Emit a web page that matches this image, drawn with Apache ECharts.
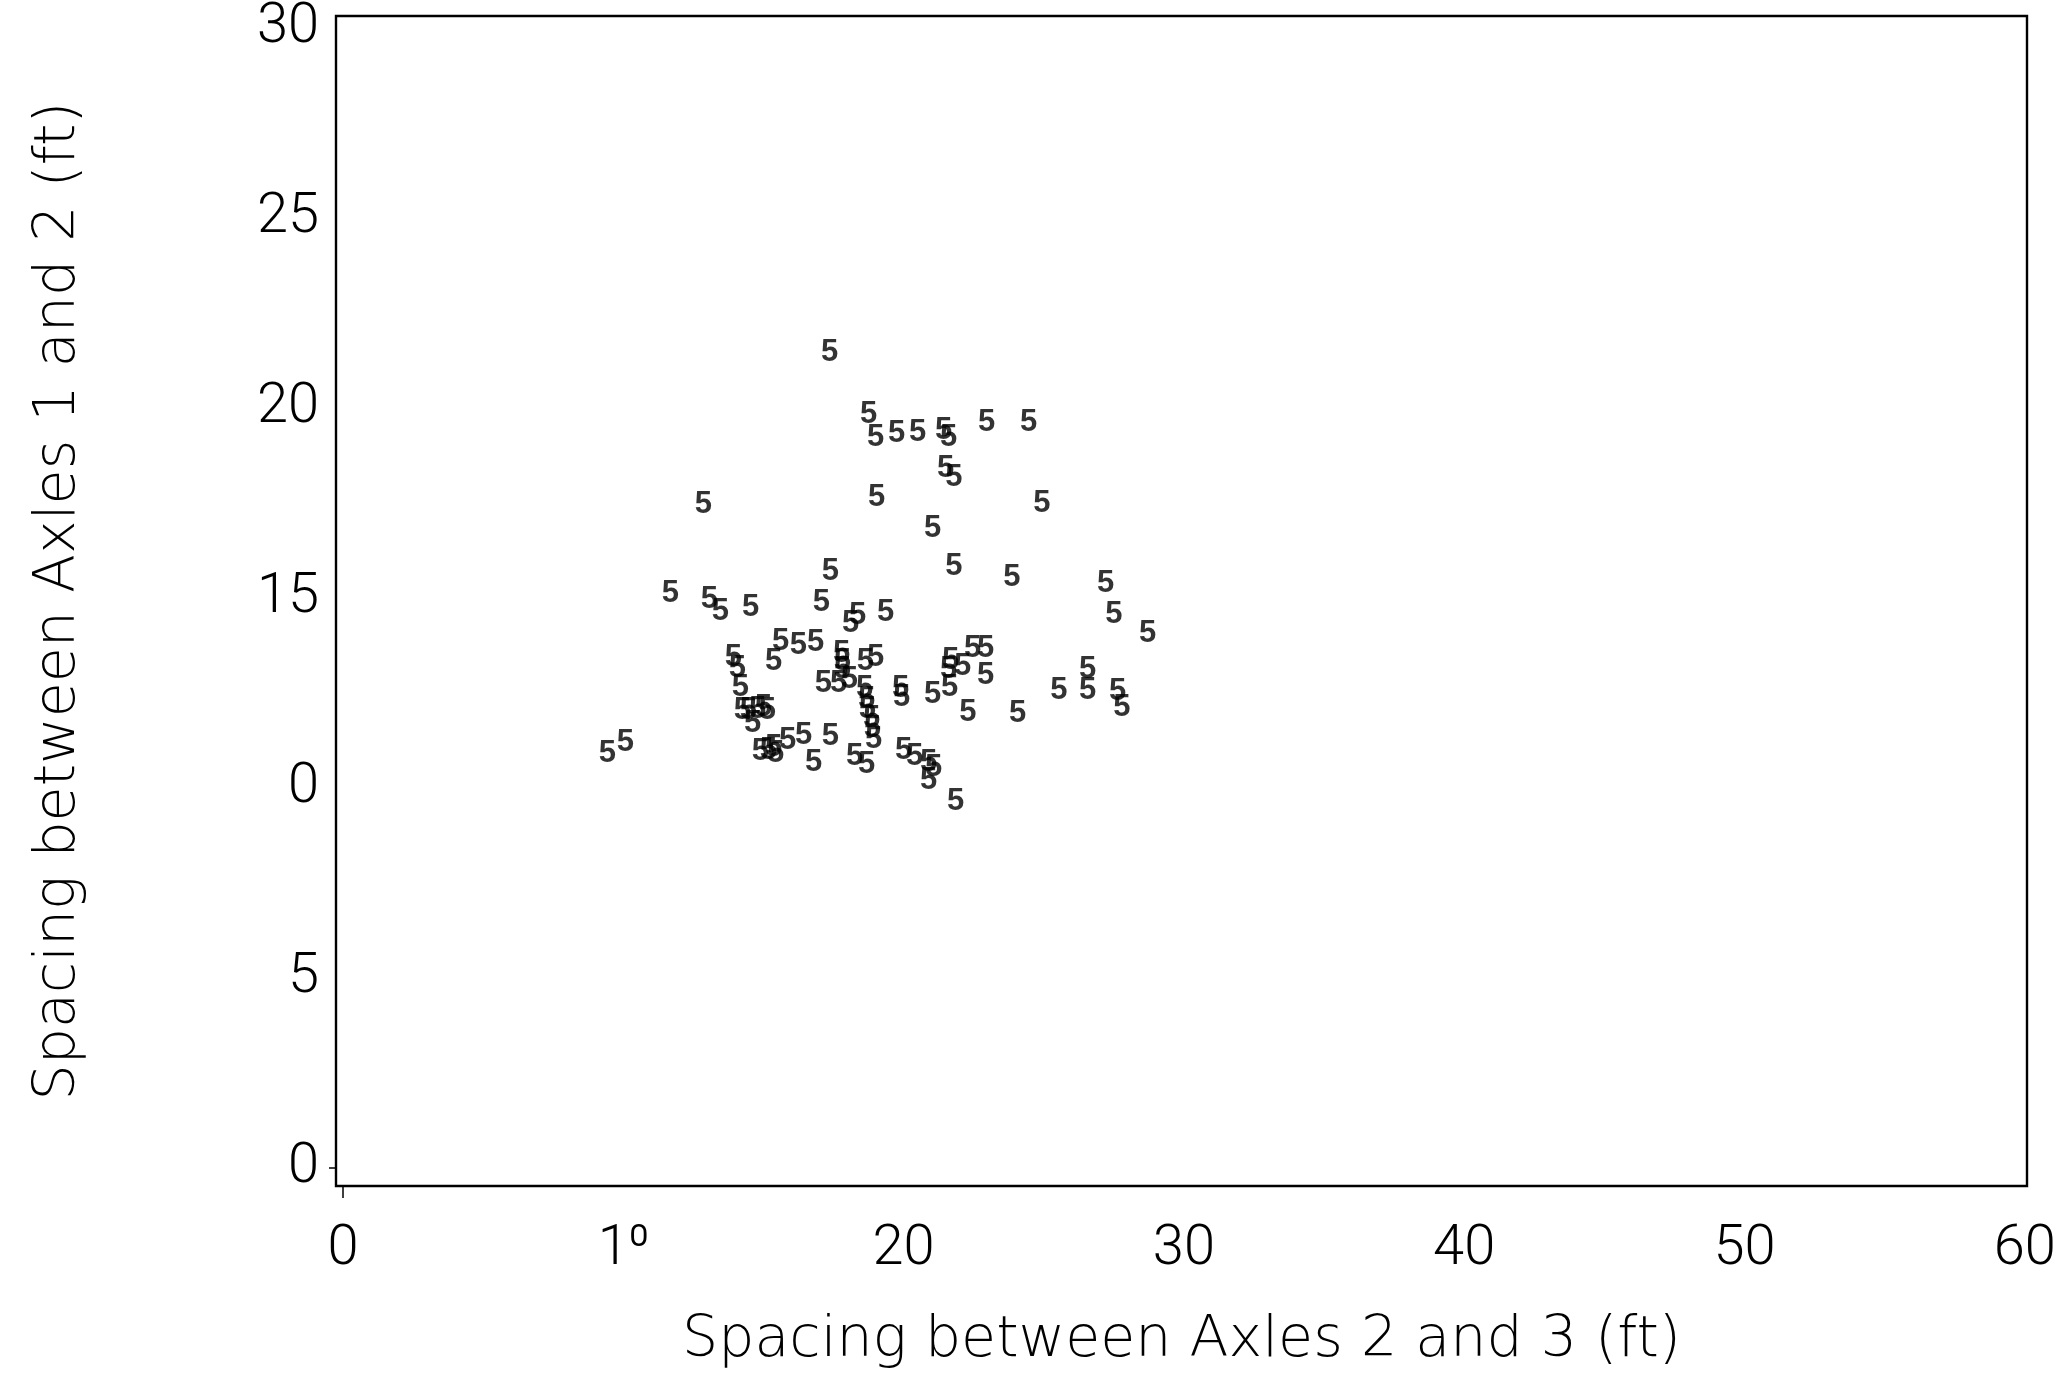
<!DOCTYPE html>
<html>
<head>
<meta charset="utf-8">
<title>Axle spacing</title>
<script src="https://cdn.jsdelivr.net/npm/echarts@6/dist/echarts.min.js"></script>
<style>
  html, body { margin: 0; padding: 0; background: #fff; }
  #chart { width: 2069px; height: 1375px; }
</style>
</head>
<body>
<div id="chart"></div>
<script>
// Spacing between axles 2 and 3 (ft), one entry per vehicle
const axle23Spacing = [
  17.36, 18.75, 19.00, 19.75, 20.50, 21.43, 21.61, 22.96, 24.46, 21.50,
  21.79, 12.86, 19.04, 24.93, 21.04, 17.39, 21.79, 23.86, 27.21, 11.68,
  13.07, 13.46, 14.54, 17.07, 18.36, 18.11, 19.36, 27.50, 28.71, 15.61,
  16.25, 16.86, 15.36, 13.93, 14.07, 14.18, 17.79, 17.82, 17.82, 18.07,
  17.14, 17.68, 18.64, 19.00, 18.61, 18.68, 18.71, 18.86, 18.89, 18.93,
  19.89, 19.93, 21.04, 21.64, 21.61, 21.68, 22.11, 22.46, 22.93, 22.93,
  22.29, 24.07, 25.54, 26.57, 26.57, 27.64, 27.79, 14.25, 14.46, 14.79,
  15.00, 15.14, 14.61, 9.43, 10.07, 14.89, 15.18, 15.43, 15.36, 15.86,
  16.43, 17.39, 16.79, 18.25, 18.68, 20.00, 20.39, 20.89, 21.07, 20.89,
  21.86
];
// Spacing between axles 1 and 2 (ft), same order
const axle12Spacing = [
  21.47, 19.84, 19.24, 19.32, 19.37, 19.42, 19.24, 19.61, 19.61, 18.42,
  18.18, 17.47, 17.66, 17.50, 16.84, 15.71, 15.84, 15.53, 15.39, 15.13,
  14.97, 14.66, 14.74, 14.89, 14.55, 14.34, 14.61, 14.58, 14.08, 13.87,
  13.74, 13.84, 13.34, 13.45, 13.16, 12.66, 13.55, 13.32, 13.11, 12.87,
  12.74, 12.74, 13.34, 13.45, 12.61, 12.34, 12.08, 11.82, 11.58, 11.29,
  12.61, 12.39, 12.47, 12.66, 13.11, 13.37, 13.21, 13.68, 13.68, 12.97,
  12.00, 11.97, 12.58, 13.11, 12.58, 12.53, 12.11, 12.05, 12.05, 12.08,
  12.13, 12.05, 11.71, 10.92, 11.21, 10.95, 11.00, 10.92, 11.08, 11.26,
  11.39, 11.37, 10.68, 10.84, 10.63, 11.00, 10.82, 10.68, 10.53, 10.21,
  9.66
];
// Plot symbol used for every vehicle (5-axle class)
const pointGlyph = '5';

const xTickValues = [0, 10, 20, 30, 40, 50, 60];
const xTickLabels = ['0', '1\u2070', '20', '30', '40', '50', '60'];
const yTickValues = [0, 5, 10, 15, 20, 25, 30];
const yTickLabels = ['0', '5', '0', '15', '20', '25', '30'];

const xName = 'Spacing between Axles 2 and 3 (ft)';
const yName = 'Spacing between Axles 1 and 2 (ft)';

const points = axle23Spacing.map((x, i) => [x, axle12Spacing[i]]);

const tickFont = {
  fontFamily: 'Roboto, "DejaVu Sans", sans-serif',
  fontWeight: 300,
  color: '#000'
};
const titleFont = {
  fontFamily: '"DejaVu Sans", Roboto, sans-serif',
  fontWeight: 200,
  color: '#000'
};

const chart = echarts.init(document.getElementById('chart'), null, { renderer: 'canvas' });
chart.setOption({
  animation: false,
  backgroundColor: '#ffffff',
  grid: {
    left: 336, right: 42, top: 16, bottom: 189,
    show: true,
    borderColor: '#000',
    borderWidth: 2.4,
    backgroundColor: 'transparent'
  },
  xAxis: {
    type: 'value',
    min: -0.25,
    max: 60.08,
    axisLine: { show: false, onZero: false },
    splitLine: { show: false },
    axisTick: {
      show: true, customValues: [0], length: 12, inside: false,
      lineStyle: { color: '#000', width: 1.5 }
    },
    axisLabel: {
      customValues: xTickValues,
      formatter: v => xTickLabels[xTickValues.indexOf(v)],
      margin: 36,
      fontSize: 56,
      ...tickFont
    },
    name: xName,
    nameLocation: 'middle',
    nameGap: 127,
    nameTextStyle: { fontSize: 57, ...titleFont }
  },
  yAxis: {
    type: 'value',
    min: -0.474,
    max: 30.32,
    axisLine: { show: false, onZero: false },
    splitLine: { show: false },
    axisTick: {
      show: true, customValues: [0], length: 7, inside: false,
      lineStyle: { color: '#000', width: 1.5 }
    },
    axisLabel: {
      customValues: yTickValues,
      formatter: v => yTickLabels[yTickValues.indexOf(v)],
      margin: 17,
      fontSize: 56,
      ...tickFont
    },
    name: yName,
    nameLocation: 'middle',
    nameGap: 248,
    nameRotate: 90,
    nameTextStyle: { fontSize: 57, ...titleFont }
  },
  series: [{
    type: 'scatter',
    data: points,
    symbol: 'circle',
    symbolSize: 1,
    itemStyle: { color: 'rgba(0,0,0,0)' },
    label: {
      show: true,
      position: 'inside',
      formatter: () => pointGlyph,
      fontFamily: '"Liberation Sans", Arial, sans-serif',
      fontWeight: 'bold',
      fontSize: 31,
      color: '#000'
    },
    emphasis: { disabled: true }
  }]
});
</script>
</body>
</html>
